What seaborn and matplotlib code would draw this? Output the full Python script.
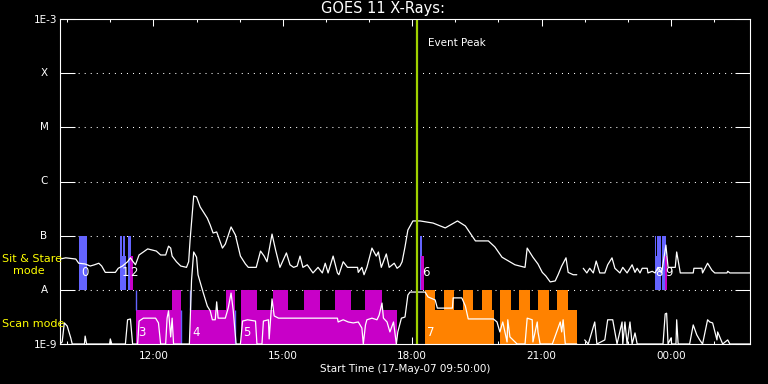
import numpy as np
import pandas as pd
import matplotlib
matplotlib.use("Agg")
import matplotlib.pyplot as plt
import seaborn as sns

# ---------------- data ----------------
title = "GOES 11 X-Rays:"
xlabel_text = "Start Time (17-May-07 09:50:00)"
x_start, x_end = "09:50", "01:50"
event_peak = "18:06"

long_time = ["09:50", "09:58", "10:12", "10:16", "10:25", "10:32", "10:38", "10:44", "10:48", "10:53",
             "11:07", "11:11", "11:17", "11:24", "11:28", "11:31", "11:35", "11:40", "11:46", "11:52",
             "11:59", "12:04", "12:10", "12:17", "12:21", "12:24", "12:26", "12:32", "12:38", "12:46",
             "12:49", "12:51", "12:56", "13:00", "13:05", "13:15", "13:19", "13:23", "13:28", "13:36",
             "13:40", "13:48", "13:54", "14:01", "14:08", "14:12", "14:23", "14:29", "14:34", "14:38",
             "14:45", "14:50", "14:56", "15:05", "15:10", "15:15", "15:20", "15:24", "15:28", "15:34",
             "15:42", "15:49", "15:55", "15:59", "16:03", "16:10", "16:16", "16:18", "16:24", "16:30",
             "16:44", "16:45", "16:50", "16:53", "16:57", "17:04", "17:10", "17:13", "17:17", "17:24",
             "17:28", "17:35", "17:39", "17:43", "17:46", "17:50", "17:54", "18:01", "18:11", "18:29",
             "18:46", "19:03", "19:14", "19:28", "19:46", "19:55", "20:05", "20:23", "20:37", "20:40",
             "20:48", "20:55", "21:01", "21:06", "21:12", "21:19", "21:23", "21:28", "21:34", "21:37",
             "21:44", "21:49", "21:53", "21:58", "22:03", "22:07", "22:12", "22:16", "22:21", "22:28",
             "22:32", "22:38", "22:42", "22:49", "22:53", "22:59", "23:06", "23:10", "23:13", "23:17",
             "23:20", "23:27", "23:28", "23:34", "23:38", "23:42", "23:47", "23:53", "23:56", "00:06",
             "00:08", "00:13", "00:31", "00:32", "00:43", "00:44", "00:51", "00:57", "01:01", "01:18",
             "01:19", "01:22", "01:50"]
long_flux = [3.7e-8, 3.9e-8, 3.7e-8, 3.1e-8, 3.0e-8, 2.75e-8, 2.9e-8, 3.1e-8, 2.75e-8, 2.1e-8,
             2.1e-8, 2.5e-8, 2.75e-8, 3.3e-8, 3.9e-8, 3.4e-8, 2.9e-8, 4.4e-8, 5.0e-8, 5.7e-8,
             5.4e-8, 5.2e-8, 4.4e-8, 4.4e-8, 6.4e-8, 5.9e-8, 4.2e-8, 3.3e-8, 2.75e-8, 2.6e-8,
             3.3e-8, 8.3e-8, 5.4e-7, 5.2e-7, 3.4e-7, 2.1e-7, 1.57e-7, 1.12e-7, 1.17e-7, 5.9e-8,
             7.0e-8, 1.45e-7, 1.03e-7, 4.2e-8, 3.0e-8, 2.6e-8, 2.6e-8, 5.2e-8, 4.2e-8, 3.3e-8,
             1.07e-7, 5.4e-8, 2.6e-8, 4.8e-8, 2.9e-8, 2.6e-8, 2.75e-8, 4.2e-8, 2.6e-8, 2.9e-8,
             2.05e-8, 2.6e-8, 2.05e-8, 3.1e-8, 2.05e-8, 4.2e-8, 2.05e-8, 1.9e-8, 3.3e-8, 2.6e-8,
             2.6e-8, 2.1e-8, 2.6e-8, 1.9e-8, 2.6e-8, 5.9e-8, 4.2e-8, 5.0e-8, 2.6e-8, 4.6e-8,
             2.6e-8, 3.1e-8, 2.5e-8, 2.75e-8, 3.3e-8, 6.2e-8, 1.27e-7, 1.87e-7, 1.87e-7, 1.71e-7,
             1.39e-7, 1.87e-7, 1.51e-7, 8.0e-8, 8.0e-8, 6.2e-8, 4.0e-8, 2.9e-8, 2.6e-8, 5.9e-8,
             4.0e-8, 3.0e-8, 2.1e-8, 1.8e-8, 1.4e-8, 1.46e-8, 1.9e-8, 2.75e-8, 3.9e-8, 2.1e-8,
             1.9e-8, 1.9e-8, np.nan, 2.5e-8, 2.05e-8, 2.5e-8, 2.05e-8, 3.4e-8, 2.05e-8, 2.05e-8,
             2.9e-8, 3.9e-8, 2.5e-8, 2.05e-8, 2.6e-8, 2.05e-8, 2.9e-8, 2.1e-8, 2.5e-8, 2.05e-8,
             2.5e-8, 2.5e-8, 2.05e-8, 2.2e-8, 2.05e-8, 2.6e-8, 2.05e-8, 6.7e-8, 2.6e-8, 2.6e-8,
             5.0e-8, 2.05e-8, 2.05e-8, 2.5e-8, 2.5e-8, 2.05e-8, 3.1e-8, 2.3e-8, 2.05e-8, 2.05e-8,
             2.2e-8, 2.05e-8, 2.05e-8]

short_time = ["09:50", "09:53", "09:56", "10:00", "10:05", "10:07", "10:24", "10:25", "10:27", "10:59",
              "11:00", "11:02", "11:21", "11:24", "11:28", "11:31", "11:38", "11:40", "11:46", "12:03",
              "12:07", "12:10", "12:17", "12:19", "12:21", "12:24", "12:26", "12:28", "12:50", "12:53",
              "12:56", "13:00", "13:02", "13:09", "13:15", "13:19", "13:22", "13:26", "13:28", "13:30",
              "13:40", "13:44", "13:48", "13:51", "13:55", "14:01", "14:04", "14:11", "14:22", "14:24",
              "14:31", "14:33", "14:40", "14:41", "14:45", "14:48", "14:54", "16:16", "16:17", "16:24",
              "16:31", "16:38", "16:45", "16:50", "16:52", "16:55", "16:57", "17:04", "17:11", "17:14",
              "17:18", "17:20", "17:25", "17:29", "17:34", "17:38", "17:40", "17:45", "17:50", "17:54",
              "17:57", "18:18", "18:22", "18:32", "18:35", "18:56", "18:57", "19:09", "19:14", "19:18",
              "19:53", "19:58", "20:02", "20:06", "20:09", "20:12", "20:13", "20:16", "20:26", "20:37",
              "20:40", "20:47", "20:48", "20:54", "20:55", "20:58", "21:15", "21:26", "21:28", "21:30",
              "21:33", "21:49", "21:53", "22:00", "22:05", "22:14", "22:17", "22:28", "22:32", "22:39",
              "22:45", "22:52", "22:53", "22:56", "22:59", "23:03", "23:06", "23:10", "23:13", "23:49",
              "23:52", "23:54", "23:56", "00:00", "00:01", "00:07", "00:08", "00:10", "00:26", "00:31",
              "00:36", "00:40", "00:44", "00:51", "00:54", "00:58", "01:04", "01:05", "01:12", "01:19",
              "01:22", "01:50"]
short_flux = [1.0e-9, 1.09e-9, 2.45e-9, 2.15e-9, 1.29e-9, 1.0e-9, 1.0e-9, 1.4e-9, 1.0e-9, 1.0e-9,
              1.24e-9, 1.0e-9, 1.0e-9, 2.8e-9, 2.9e-9, 1.0e-9, 1.0e-9, 2.65e-9, 3.0e-9, 3.0e-9,
              2.45e-9, 1.0e-9, 1.0e-9, 3.0e-9, 4.1e-9, 1.35e-9, 3.0e-9, 1.0e-9, 1.0e-9, 1.5e-8,
              5.0e-8, 4.0e-8, 1.9e-8, 9.1e-9, 5.0e-9, 4.1e-9, 2.8e-9, 2.8e-9, 6.0e-9, 3.0e-9,
              3.0e-9, 4.6e-9, 8.7e-9, 4.2e-9, 1.0e-9, 1.0e-9, 2.65e-9, 2.8e-9, 2.65e-9, 1.0e-9,
              1.0e-9, 2.65e-9, 2.8e-9, 1.24e-9, 6.8e-9, 3.3e-9, 3.0e-9, 3.0e-9, 2.55e-9, 2.8e-9,
              2.55e-9, 2.45e-9, 2.55e-9, 1.97e-9, 1.0e-9, 2.25e-9, 2.8e-9, 3.0e-9, 2.8e-9, 3.4e-9,
              5.7e-9, 3.0e-9, 2.55e-9, 1.67e-9, 2.55e-9, 1.0e-9, 1.67e-9, 3.0e-9, 3.15e-9, 8.0e-9,
              9.1e-9, 9.1e-9, 7.4e-9, 6.5e-9, 4.6e-9, 4.6e-9, 7.1e-9, 7.1e-9, 5.0e-9, 2.9e-9,
              2.9e-9, 2.55e-9, 1.67e-9, 2.55e-9, 1.67e-9, 1.09e-9, 2.8e-9, 1.35e-9, 1.0e-9, 1.0e-9,
              3.0e-9, 2.8e-9, 1.09e-9, 2.55e-9, 1.67e-9, 1.0e-9, 1.0e-9, 2.55e-9, 1.67e-9, 2.8e-9,
              1.0e-9, 1.0e-9, np.nan, 1.19e-9, 1.0e-9, 2.55e-9, 1.0e-9, 1.19e-9, 2.8e-9, 2.8e-9,
              1.0e-9, 2.55e-9, 1.0e-9, 2.55e-9, 1.0e-9, 2.55e-9, 1.0e-9, 1.6e-9, 1.0e-9, 1.0e-9,
              3.6e-9, 3.7e-9, 1.0e-9, 1.29e-9, 1.0e-9, 1.0e-9, 2.8e-9, 1.0e-9, 1.0e-9, 2.25e-9,
              1.47e-9, 1.19e-9, 1.0e-9, 2.8e-9, 2.55e-9, 2.45e-9, 1.19e-9, 1.67e-9, 1.0e-9, 1.19e-9,
              1.0e-9, 1.0e-9]

class_levels = [1e-9, 1e-8, 1e-7, 1e-6, 1e-5, 1e-4, 1e-3]
class_labels = ["1E-9", "A", "B", "C", "M", "X", "1E-3"]
tick_hours = [12, 15, 18, 21, 24]
tick_labels = ["12:00", "15:00", "18:00", "21:00", "00:00"]

# Sit & Stare observations (between A and B)
ss_start = ["10:17", "11:14", "11:17", "11:25", "18:11", "23:38", "23:40", "23:48",
            "11:13", "23:38", "11:27", "18:12", "23:52"]
ss_end = ["10:28", "11:16", "11:21", "11:29", "18:14", "23:39", "23:46", "23:53",
          "11:22", "23:46", "11:31", "18:17", "23:54"]
ss_top = [1e-7, 1e-7, 1e-7, 1e-7, 1e-7, 1e-7, 1e-7, 1e-7,
          4.2e-8, 4.2e-8, 4.2e-8, 4.2e-8, 4.2e-8]
ss_kind = ["blue"] * 10 + ["magenta"] * 3

# Scan mode observations (between 1E-9 and A)
scan_start = ["11:36", "12:51", "14:02", "18:18", "20:02",
              "12:26", "13:41", "14:02", "14:46", "15:29", "16:12", "16:55",
              "18:18", "18:44", "19:11", "19:37", "20:02", "20:29", "20:55", "21:22"]
scan_end = ["12:39", "13:54", "17:39", "19:54", "21:49",
            "12:39", "13:54", "14:24", "15:07", "15:52", "16:35", "17:18",
            "18:32", "18:58", "19:25", "19:51", "20:18", "20:44", "21:10", "21:37"]
scan_top = [4.2e-9] * 5 + [1e-8] * 15
scan_kind = ["magenta", "magenta", "magenta", "orange", "orange"] + ["magenta"] * 7 + ["orange"] * 8

# thin markers at scan boundaries
mark_time = ["11:36", "12:39", "12:51", "13:54"]
mark_low = [4.2e-9, 1e-9, 4.2e-9, 1e-9]
mark_high = [1e-8, 4.2e-9, 1e-8, 4.2e-9]

obs_labels = ["0", "1", "2", "3", "4", "5", "6", "7", "8", "9"]
obs_time = ["10:17", "11:13", "11:25", "11:36", "12:51", "14:02", "18:11", "18:18", "23:38", "23:48"]
obs_mode = ["ss", "ss", "ss", "scan", "scan", "scan", "ss", "scan", "ss", "ss"]
obs_dx = [1.5, 1.5, 1.5, 1.5, 1.5, 1.5, 1.5, 1.5, 0.0, 1.8]   # text nudge (points)

colors = {"blue": "#6464ff", "magenta": "#c800c8", "orange": "#ff8200"}


def hrs(s):
    h, m = s.split(":")
    v = int(h) + int(m) / 60.0
    return v + 24 if v < 9 else v


def curve_frame(times, flux):
    df = pd.DataFrame({"t": [hrs(s) for s in times], "flux": flux})
    df["seg"] = df["flux"].isna().cumsum()
    return df.dropna()


# ---------------- style ----------------
sns.set_theme(style="dark")
plt.rcParams.update({
    "figure.facecolor": "black", "axes.facecolor": "black",
    "axes.edgecolor": "white", "text.color": "white",
    "xtick.color": "white", "ytick.color": "white",
    "axes.grid": False,
})
plt.rcParams["font.family"] = ["DejaVu Sans"]

fig = plt.figure(figsize=(7.68, 3.84), dpi=100)
ax = fig.add_axes([60 / 768, 40 / 384, 690 / 768, 325 / 384])
ax.set_yscale("log")
ax.set_ylim(1e-9, 1e-3)
ax.set_xlim(hrs(x_start), hrs(x_end))

# dotted class lines
for lvl in class_levels[1:-1]:
    ax.axhline(lvl, color="white", lw=0.75, ls=(0, (1, 4.8)), zorder=1)

# observation blocks
def draw_blocks(starts, ends, tops, kinds, bottom):
    st = np.array([hrs(s) for s in starts])
    en = np.array([hrs(s) for s in ends])
    tp = np.array(tops)
    for k in ["blue", "magenta", "orange"]:
        sel = np.array([kk == k for kk in kinds])
        if sel.any():
            ax.bar(st[sel], tp[sel] - bottom, width=en[sel] - st[sel], bottom=bottom,
                   align="edge", color=colors[k], linewidth=0, zorder=2)

draw_blocks(ss_start, ss_end, ss_top, ss_kind, 1e-8)
draw_blocks(scan_start, scan_end, scan_top, scan_kind, 1e-9)
ax.vlines([hrs(s) for s in mark_time], mark_low, mark_high, color=colors["blue"], lw=1.0, zorder=2)

# curves
for times, flux in [(long_time, long_flux), (short_time, short_flux)]:
    df = curve_frame(times, flux)
    sns.lineplot(data=df, x="t", y="flux", units="seg", estimator=None, color="white",
                 lw=0.9, ax=ax, legend=False, zorder=4)

# observation numbers
for lbl, t, mode, dx in zip(obs_labels, obs_time, obs_mode, obs_dx):
    y = 2.1e-8 if mode == "ss" else 1.6e-9
    ax.annotate(lbl, (hrs(t), y), xytext=(dx, 0), textcoords="offset points",
                ha="left", va="center", color="white", fontsize=8.5, zorder=5)

# event peak
ax.axvline(hrs(event_peak), color="#a0d200", lw=1.6, zorder=6)
ax.annotate("Event Peak", xy=(hrs(event_peak), 1), xycoords=("data", "axes fraction"),
            xytext=(8, -17.3), textcoords="offset points", ha="left", va="center",
            color="white", fontsize=7.5)

# axes styling
for sp in ax.spines.values():
    sp.set_color("white")
    sp.set_linewidth(0.8)
    sp.set_zorder(7)

ax.set_yticks(class_levels)
ax.yaxis.set_minor_locator(matplotlib.ticker.NullLocator())
ax.set_yticklabels([l if l.startswith("1E") else "" for l in class_labels])
ax.tick_params(axis="y", which="major", direction="in", length=10.8, width=0.75,
               left=True, right=True, labelsize=7.5, pad=2.2, colors="white")
ytrans = ax.get_yaxis_transform()
for lvl, l in zip(class_levels, class_labels):
    if not l.startswith("1E"):
        ax.text(-16 / 690, lvl, l, transform=ytrans, ha="center", va="center",
                fontsize=7.5, color="white")

ax.set_xticks(tick_hours)
ax.set_xticklabels(tick_labels)
ax.set_xticks(np.arange(10, 26), minor=True)
ax.tick_params(axis="x", which="major", direction="in", length=5, width=0.75,
               top=True, bottom=True, labelsize=7.5, pad=5, colors="white")
ax.tick_params(axis="x", which="minor", direction="in", length=2.5, width=0.75,
               top=True, bottom=True, colors="white")
ax.set_xlabel(xlabel_text, fontsize=7.5, color="white")
ax.xaxis.set_label_coords(0.5, -(369 - 344) / 325)
ax.xaxis.label.set_va("center")
ax.set_ylabel("")

fig.text(383 / 768, 1 - 9 / 384, title, ha="center", va="center", fontsize=10.5, color="white")
yellow = "#ffff00"
fig.text(2 / 768, 1 - 259 / 384, "Sit & Stare", ha="left", va="center", fontsize=8, color=yellow)
fig.text(13 / 768, 1 - 271 / 384, "mode", ha="left", va="center", fontsize=8, color=yellow)
fig.text(2 / 768, 1 - 324 / 384, "Scan mode", ha="left", va="center", fontsize=8, color=yellow)

fig.savefig("out.png", dpi=100, facecolor="black")
